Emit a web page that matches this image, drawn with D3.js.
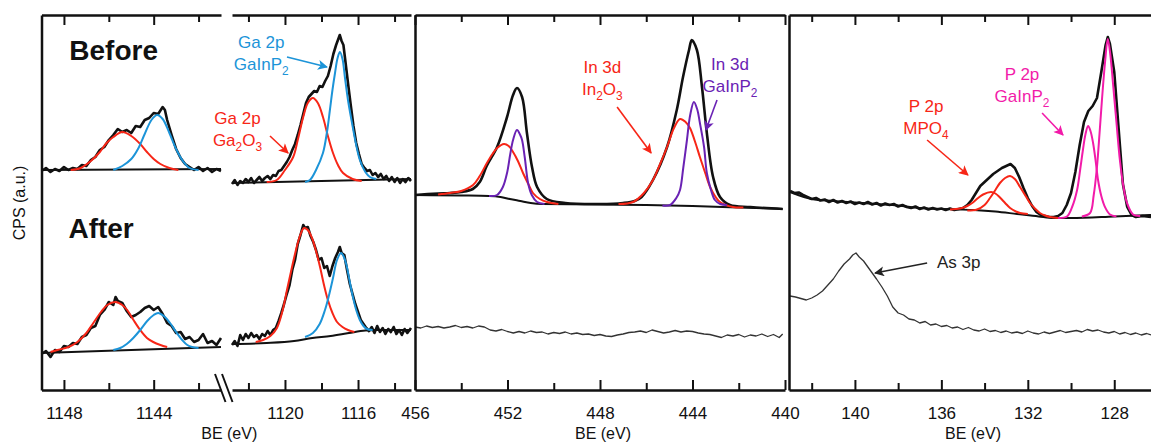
<!DOCTYPE html>
<html>
<head>
<meta charset="utf-8">
<script src="https://cdn.jsdelivr.net/npm/d3@7"></script>
<style>
  body { margin: 0; background: #fff; }
  svg { display: block; font-family: "Liberation Sans", "Noto Sans", sans-serif; }
</style>
</head>
<body>
<svg id="chart" width="1151" height="442"></svg>
<script>
// ---- Data: binding energy (eV), intensity (counts, a.u.) ----

// Ga 2p, 1149-1141 eV window
const gaLBeforeData = [[1149.0,219],[1148.8,222],[1148.6,218],[1148.4,221],[1148.2,219],[1148.0,223],[1147.8,220],[1147.6,222],[1147.4,221],[1147.2,225],[1147.0,224],[1146.8,230],[1146.6,233],[1146.4,240],[1146.2,243],[1146.0,250],[1145.8,255],[1145.6,261],[1145.4,258],[1145.2,260],[1145.0,257],[1144.8,264],[1144.6,263],[1144.4,270],[1144.2,272],[1144.0,277],[1143.8,276],[1143.6,283],[1143.5,280],[1143.4,270],[1143.2,255],[1143.0,241],[1142.8,232],[1142.6,226],[1142.4,223],[1142.2,220],[1142.0,223],[1141.8,219],[1141.6,222],[1141.4,218],[1141.2,221],[1141.0,219]];
const gaLBeforeBg = [[1149,220],[1141,221]];
const gaLBeforeOxide = [[1147.7,220],[1147.25,222],[1146.8,229],[1146.4,238],[1146.1,247],[1145.8,253],[1145.4,258],[1145.0,254],[1144.6,246],[1144.3,238],[1144.0,231],[1143.7,226],[1143.3,222],[1142.9,220]];
const gaLBeforeBulk = [[1145.8,220],[1145.4,224],[1145.0,231],[1144.7,241],[1144.4,256],[1144.1,270],[1143.85,275],[1143.6,271],[1143.3,257],[1143.0,241],[1142.7,229],[1142.4,222],[1142.0,220]];

const gaLAfterData = [[1149.0,36],[1148.8,39],[1148.6,33],[1148.4,40],[1148.2,38],[1148.0,44],[1147.8,43],[1147.6,47],[1147.4,46],[1147.2,53],[1147.0,55],[1146.8,62],[1146.6,64],[1146.4,75],[1146.2,80],[1146.0,88],[1145.8,85],[1145.7,93],[1145.6,89],[1145.4,87],[1145.2,79],[1145.0,73],[1144.8,75],[1144.6,78],[1144.4,82],[1144.2,84],[1144.0,80],[1143.8,83],[1143.6,76],[1143.4,67],[1143.2,64],[1143.0,57],[1142.8,58],[1142.6,51],[1142.4,53],[1142.2,48],[1142.0,50],[1141.8,56],[1141.6,47],[1141.4,49],[1141.2,45],[1141.0,52]];
const gaLAfterBg = [[1149,37],[1141,43]];
const gaLAfterOxide = [[1148.6,38],[1148.29,40],[1147.8,43],[1147.4,48],[1147.0,57],[1146.69,67],[1146.35,78],[1146.07,85],[1145.71,88],[1145.4,85],[1145.18,80],[1144.9,70],[1144.6,60],[1144.3,52],[1144.02,48],[1143.7,45],[1143.4,43]];
const gaLAfterBulk = [[1145.8,40],[1145.49,42],[1145.2,46],[1144.91,52],[1144.6,60],[1144.29,69],[1144.0,75],[1143.8,77],[1143.55,74],[1143.27,67],[1143.0,58],[1142.73,50],[1142.5,45],[1142.29,43],[1142.0,42]];

// Ga 2p, 1123-1113 eV window
const gaRBeforeData = [[1122.9,206],[1122.75,210],[1122.6,205],[1122.45,209],[1122.3,207],[1122.15,211],[1122.0,208],[1121.85,212],[1121.7,207],[1121.55,210],[1121.4,213],[1121.25,209],[1121.1,212],[1120.95,214],[1120.8,211],[1120.65,215],[1120.5,214],[1120.35,219],[1120.2,220],[1120.05,224],[1119.9,228],[1119.75,233],[1119.6,240],[1119.45,246],[1119.3,255],[1119.15,265],[1119.0,276],[1118.85,287],[1118.7,293],[1118.55,296],[1118.4,299],[1118.25,298],[1118.1,304],[1117.95,303],[1117.8,309],[1117.65,314],[1117.5,324],[1117.35,336],[1117.2,345],[1117.1,350],[1117.0,355],[1116.9,349],[1116.8,345],[1116.7,330],[1116.55,307],[1116.4,285],[1116.25,264],[1116.1,247],[1115.95,236],[1115.8,226],[1115.65,222],[1115.5,219],[1115.35,220],[1115.2,215],[1115.05,217],[1114.9,213],[1114.75,216],[1114.6,211],[1114.45,214],[1114.3,209],[1114.15,213],[1114.0,208],[1113.85,212],[1113.7,207],[1113.55,211],[1113.4,208],[1113.25,212],[1113.1,209]];
const gaRBeforeBg = [[1122.9,207],[1113.1,211]];
const gaRBeforeOxide = [[1121.0,208],[1120.45,210],[1120.0,220],[1119.55,233],[1119.3,250],[1119.0,273],[1118.75,287],[1118.47,292],[1118.2,287],[1117.92,273],[1117.65,254],[1117.37,237],[1117.1,225],[1116.82,217],[1116.3,211],[1115.8,209]];
const gaRBeforeBulk = [[1118.9,208],[1118.63,210],[1118.3,220],[1117.92,237],[1117.7,258],[1117.54,280],[1117.4,300],[1117.26,317],[1117.12,332],[1116.99,338],[1116.85,331],[1116.72,313],[1116.55,290],[1116.33,267],[1116.1,245],[1115.9,230],[1115.6,218],[1115.35,213],[1115.0,211]];

const gaRAfterData = [[1122.9,45],[1122.75,49],[1122.6,44],[1122.45,55],[1122.3,50],[1122.15,56],[1122.0,52],[1121.85,57],[1121.7,53],[1121.55,55],[1121.4,51],[1121.25,56],[1121.1,54],[1120.95,59],[1120.8,55],[1120.65,60],[1120.5,62],[1120.35,69],[1120.2,77],[1120.05,86],[1119.9,96],[1119.75,105],[1119.6,120],[1119.45,130],[1119.3,146],[1119.15,155],[1119.0,165],[1118.9,162],[1118.75,163],[1118.6,154],[1118.45,148],[1118.3,140],[1118.15,130],[1118.0,132],[1117.85,122],[1117.7,124],[1117.55,114],[1117.4,124],[1117.25,132],[1117.1,138],[1117.0,143],[1116.9,137],[1116.75,135],[1116.6,120],[1116.45,106],[1116.3,96],[1116.15,86],[1116.0,78],[1115.85,70],[1115.7,66],[1115.55,62],[1115.4,59],[1115.25,63],[1115.1,57],[1114.95,64],[1114.8,58],[1114.65,62],[1114.5,56],[1114.35,61],[1114.2,58],[1114.05,63],[1113.9,56],[1113.75,60],[1113.6,55],[1113.45,61],[1113.3,57],[1113.1,62]];
const gaRAfterBg = [[1122.9,46],[1121.0,47],[1119.5,49],[1118.5,52],[1117.5,54],[1116.5,57],[1115.6,59.5],[1115.0,60],[1113.1,60]];
const gaRAfterOxide = [[1121.6,48],[1121.2,50],[1120.8,54],[1120.44,62],[1120.15,78],[1119.89,100],[1119.65,120],[1119.45,136],[1119.2,153],[1118.96,162],[1118.75,160],[1118.52,152],[1118.3,139],[1118.08,123],[1117.85,104],[1117.65,90],[1117.4,77],[1117.15,68],[1116.85,63],[1116.55,60],[1116.2,58]];
const gaRAfterBulk = [[1118.9,53],[1118.47,57],[1118.1,66],[1117.81,80],[1117.6,94],[1117.37,112],[1117.15,130],[1116.93,137],[1116.75,132],[1116.61,123],[1116.45,108],[1116.28,93],[1116.1,80],[1115.9,70],[1115.7,64],[1115.51,61],[1115.2,60]];

// In 3d
const inBeforeEnvelope = [[456,195],[455,196.5],[454.5,197],[454,198],[453.5,201],[453.2,208],[452.9,224],[452.45,243],[452.02,273],[451.76,295],[451.59,302],[451.37,293],[451.16,257],[450.94,223],[450.72,203],[450.3,191],[449.5,187],[448,186],[447,187],[446.5,189],[446.2,193],[445.71,210],[445.1,243],[444.68,280],[444.41,313],[444.15,340],[444.03,350],[443.81,340],[443.59,303],[443.38,257],[443.11,213],[442.81,193],[442.38,185],[441.5,183],[440.1,181]];
const inBeforeBg = [[456,195],[454,194.5],[452.8,194],[452.3,193],[451.9,191],[451.45,189],[451.0,187],[450.5,186],[448,185.5],[446,185],[444,184],[442,182.5],[440.1,181]];
const inOxide32 = [[455,195.5],[454.49,197],[454.0,199],[453.49,205],[453.2,214],[452.89,227],[452.65,236],[452.45,242],[452.15,246],[451.95,244],[451.76,238],[451.55,229],[451.33,217],[451.1,206],[450.9,197],[450.6,191],[450.29,188],[449.8,186]];
const inBulk32 = [[452.8,194],[452.45,195],[452.2,203],[452.02,217],[451.88,236],[451.76,250],[451.59,260],[451.45,255],[451.37,250],[451.25,232],[451.11,207],[450.95,195],[450.72,188],[450.4,186]];
const inOxide52 = [[447.2,186],[446.57,188],[446.1,197],[445.71,210],[445.4,226],[445.1,243],[444.8,262],[444.54,271],[444.3,268],[444.11,262],[443.9,249],[443.68,233],[443.45,217],[443.24,203],[443.0,193],[442.81,188],[442.25,183],[441.8,182.5]];
const inBulk52 = [[445.3,184.5],[444.97,185],[444.7,192],[444.54,200],[444.4,222],[444.24,250],[444.1,275],[443.94,288],[443.8,281],[443.68,267],[443.5,243],[443.38,217],[443.2,200],[443.03,190],[442.8,186],[442.51,185]];
const inAfterData = [[456.0,63],[455.75,62],[455.5,64],[455.25,62.5],[455.0,63.5],[454.75,62],[454.5,63],[454.25,64.5],[454.0,62.5],[453.75,63.5],[453.5,62],[453.25,64],[453.0,63],[452.75,60],[452.5,59],[452.25,60.5],[452.0,58.5],[451.75,57],[451.5,58.5],[451.25,57],[451.0,59],[450.75,57.5],[450.5,58],[450.25,56],[450.0,57.5],[449.75,56.5],[449.5,58],[449.25,56],[449.0,57],[448.75,55.5],[448.5,56],[448.25,54.5],[448.0,55.5],[447.75,54],[447.5,53.5],[447.25,55],[447.0,56],[446.75,57.5],[446.5,58],[446.25,59],[446.0,57.5],[445.75,60],[445.5,58.5],[445.25,57],[445.0,58],[444.75,59.5],[444.5,58],[444.25,59],[444.0,58.5],[443.75,57],[443.5,56],[443.25,55.5],[443.0,54],[442.75,52.5],[442.5,55],[442.25,54],[442.0,55.5],[441.75,53],[441.5,55],[441.25,54],[441.0,56],[440.75,53.5],[440.5,55.5],[440.25,52.5],[440.1,56]];

// P 2p / As 3p
const pBeforeData = [[143.0,199],[142.8,197],[142.6,197.5],[142.4,195],[142.2,193],[142.0,191],[141.8,192],[141.6,189.5],[141.4,190.5],[141.2,188],[141.0,190],[140.8,187.5],[140.6,189],[140.4,187],[140.2,188.5],[140.0,186],[139.8,187.5],[139.6,186],[139.4,188],[139.2,185.5],[139.0,187],[138.8,184.5],[138.6,186.5],[138.4,185],[138.2,186],[138.0,183.5],[137.8,185],[137.6,183],[137.4,182],[137.2,183.5],[137.0,181],[136.8,182.5],[136.6,180.5],[136.4,182],[136.2,180.5],[136.0,181.5],[135.8,180],[135.6,181.5],[135.4,180],[135.2,181],[135.0,182],[134.8,185],[134.6,190],[134.4,197],[134.2,204],[134.0,208],[133.8,212],[133.6,216],[133.4,219],[133.2,222],[133.0,224],[132.8,226],[132.6,222],[132.4,213],[132.2,202],[132.0,192],[131.8,184],[131.6,178],[131.4,175],[131.2,174],[131.0,173],[130.8,173],[130.6,174],[130.4,177],[130.2,185],[130.0,197],[129.8,218],[129.6,245],[129.4,268],[129.2,279],[129.0,284],[128.8,292],[128.6,318],[128.4,345],[128.3,353],[128.2,346],[128.0,318],[127.8,262],[127.6,206],[127.4,183],[127.2,175],[127.0,173],[126.7,174],[126.3,173]];
const pBeforeBg = [[143.0,198],[142.0,191],[141.0,189],[140,187.5],[139,186],[138,184.5],[137,182],[136,181],[135.2,180.5],[134.5,180],[133.5,178.5],[132.5,176],[131.5,173.5],[130.8,172],[130,172],[128,173.5],[126.3,175]];
const pOxideA = [[135.6,180.5],[135.14,181.5],[134.8,184],[134.54,187.5],[134.3,192],[134.07,195.5],[133.7,198],[133.5,196.5],[133.29,192.5],[133.05,187],[132.82,182],[132.55,178.5],[132.36,177],[132.0,176]];
const pOxideB = [[134.8,179.5],[134.35,180.5],[134.0,185],[133.75,192],[133.5,200],[133.29,207],[133.05,212],[132.82,214],[132.6,211],[132.36,203],[132.1,194],[131.9,187],[131.65,181],[131.44,177],[131.2,174.5],[130.97,173],[130.6,172]];
const pBulkA = [[130.6,172],[130.19,173.5],[129.95,183],[129.72,200],[129.58,220],[129.45,240],[129.33,256],[129.21,264],[129.1,259],[128.98,247],[128.86,229],[128.75,210],[128.6,194],[128.43,183],[128.2,175.5],[127.9,173.5]];
const pBulkB = [[129.5,173.5],[129.12,177],[128.95,195],[128.8,223],[128.68,257],[128.57,290],[128.43,327],[128.3,351],[128.18,335],[128.06,307],[127.9,268],[127.74,230],[127.58,204],[127.41,187],[127.13,175.5],[126.8,174]];
const pAfterData = [[143.0,94],[142.75,93],[142.5,91.5],[142.25,90],[142.0,92],[141.75,95],[141.5,99],[141.25,105],[141.0,111],[140.75,119],[140.5,126],[140.25,131],[140.1,135],[139.95,137],[139.8,133],[139.6,129],[139.4,123],[139.2,117],[139.0,111],[138.75,103],[138.5,94],[138.25,83],[138.0,77],[137.75,75],[137.5,71],[137.25,70],[137.0,67],[136.75,68.5],[136.5,65],[136.25,66],[136.0,63.5],[135.75,64.5],[135.5,62],[135.25,63],[135.0,60.5],[134.75,62.5],[134.5,60],[134.25,59],[134.0,61],[133.75,58.5],[133.5,59.5],[133.25,57.5],[133.0,59],[132.75,57],[132.5,58],[132.25,56.5],[132.0,59],[131.75,57],[131.5,56],[131.25,58],[131.0,56.5],[130.75,58],[130.5,59.5],[130.25,57.5],[130.0,58.5],[129.75,59.5],[129.5,58],[129.25,60.5],[129.0,59],[128.75,60],[128.5,58],[128.25,57],[128.0,58.5],[127.75,56],[127.5,57.5],[127.25,55.5],[127.0,57],[126.75,55],[126.5,56.5],[126.3,55]];

// tick values
const gaLMajor = [1148, 1144], gaLMinor = [1146, 1142];
const gaRMajor = [1120, 1116], gaRMinor = [1122, 1118, 1114];
const inMajor = [456, 452, 448, 444, 440], inMinor = [454, 450, 446, 442];
const pMajor = [140, 136, 132, 128], pMinor = [142, 138, 134, 130];

// ---- Styles ----
const RED = "#f72617", BLUE = "#1c94d8", PURPLE = "#6a22b4", PINK = "#f21ba9", INK = "#111";
const TOP = 15, BOTTOM = 390;

const svg = d3.select("#chart");
const y = d3.scaleLinear().domain([0, 375]).range([BOTTOM, TOP]);

const smooth = d3.curveCatmullRom.alpha(0.5);
const panels = [
  { domain: [1149, 1141], range: [41.5, 221], major: gaLMajor, minor: gaLMinor, border: true,
    series: [
      { d: gaLBeforeBg, c: INK, w: 2, k: d3.curveLinear },
      { d: gaLBeforeData, c: INK, w: 2.6, k: d3.curveLinear },
      { d: gaLBeforeOxide, c: RED, w: 2, k: smooth },
      { d: gaLBeforeBulk, c: BLUE, w: 2, k: smooth },
      { d: gaLAfterBg, c: INK, w: 2, k: d3.curveLinear },
      { d: gaLAfterData, c: INK, w: 2.6, k: d3.curveLinear },
      { d: gaLAfterOxide, c: RED, w: 2, k: smooth },
      { d: gaLAfterBulk, c: BLUE, w: 2, k: smooth }
    ] },
  { domain: [1122.9, 1113.1], range: [232, 411], major: gaRMajor, minor: gaRMinor, border: false,
    series: [
      { d: gaRBeforeBg, c: INK, w: 2, k: d3.curveLinear },
      { d: gaRBeforeData, c: INK, w: 2.6, k: d3.curveLinear },
      { d: gaRBeforeOxide, c: RED, w: 2, k: smooth },
      { d: gaRBeforeBulk, c: BLUE, w: 2, k: smooth },
      { d: gaRAfterBg, c: INK, w: 2, k: d3.curveMonotoneX },
      { d: gaRAfterData, c: INK, w: 2.6, k: d3.curveLinear },
      { d: gaRAfterOxide, c: RED, w: 2, k: smooth },
      { d: gaRAfterBulk, c: BLUE, w: 2, k: smooth }
    ] },
  { domain: [456, 440], range: [415, 785], major: inMajor, minor: inMinor, border: true,
    series: [
      { d: inBeforeBg, c: INK, w: 2, k: d3.curveMonotoneX },
      { d: inBeforeEnvelope, c: INK, w: 2.6, k: smooth },
      { d: inOxide32, c: RED, w: 2, k: smooth },
      { d: inBulk32, c: PURPLE, w: 2, k: smooth },
      { d: inOxide52, c: RED, w: 2, k: smooth },
      { d: inBulk52, c: PURPLE, w: 2, k: smooth },
      { d: inAfterData, c: "#333", w: 1.3, k: d3.curveLinear }
    ] },
  { domain: [143.05, 126.3], range: [789, 1151], major: pMajor, minor: pMinor, border: true,
    series: [
      { d: pBeforeBg, c: INK, w: 2, k: d3.curveMonotoneX },
      { d: pBeforeData, c: INK, w: 2.6, k: d3.curveLinear },
      { d: pOxideA, c: RED, w: 2, k: smooth },
      { d: pOxideB, c: RED, w: 2, k: smooth },
      { d: pBulkA, c: PINK, w: 2, k: smooth },
      { d: pBulkB, c: PINK, w: 2, k: smooth },
      { d: pAfterData, c: "#333", w: 1.3, k: d3.curveLinear }
    ] }
];

// annotations (anchored in data coordinates of their panel)
const notes = [
  { p: 0, be: 1147.76, v: 330, lines: ["Before"], c: INK, size: 28, bold: true, anchor: "start" },
  { p: 0, be: 1147.8, v: 152, lines: ["After"], c: INK, size: 28, bold: true, anchor: "start" },
  { p: 1, be: 1121.3, v: 342, lines: ["Ga 2p", "GaInP_2"], c: BLUE },
  { p: 1, be: 1122.6, v: 266, lines: ["Ga 2p", "Ga_2O_3"], c: RED },
  { p: 2, be: 447.9, v: 317, lines: ["In 3d", "In_2O_3"], c: RED },
  { p: 2, be: 442.38, v: 320, lines: ["In 3d", "GaInP_2"], c: PURPLE },
  { p: 3, be: 136.71, v: 278, lines: ["P 2p", "MPO_4"], c: RED },
  { p: 3, be: 132.27, v: 310, lines: ["P 2p", "GaInP_2"], c: PINK },
  { p: 3, be: 136.2, v: 122, lines: ["As 3p"], c: "#222", anchor: "start" }
];
const arrows = [
  { p: 1, from: [1119.89, 333], to: [1117.7, 323], c: BLUE },
  { p: 1, from: [1120.82, 254], to: [1119.83, 237], c: RED },
  { p: 2, from: [447.26, 283], to: [445.79, 237], c: RED },
  { p: 2, from: [442.94, 290], to: [443.42, 260], c: PURPLE },
  { p: 3, from: [136.66, 250], to: [134.77, 215], c: RED },
  { p: 3, from: [131.34, 277], to: [130.37, 255], c: PINK },
  { p: 3, from: [136.66, 127], to: [139.07, 117], c: "#222" }
];

// arrow head markers, one per colour
const defs = svg.append("defs");
const arrowColors = Array.from(new Set(arrows.map(a => a.c)));
arrowColors.forEach((c, i) => {
  defs.append("marker")
    .attr("id", "head" + i)
    .attr("viewBox", "0 0 10 10")
    .attr("refX", 9).attr("refY", 5)
    .attr("markerUnits", "userSpaceOnUse")
    .attr("markerWidth", 12).attr("markerHeight", 10)
    .attr("orient", "auto")
    .append("path").attr("d", "M0,0L10,5L0,10L2.5,5Z").attr("fill", c);
});

function styleAxis(g, w) {
  g.attr("font-family", null).attr("font-size", null);
  g.selectAll("path.domain").attr("stroke", INK).attr("stroke-width", w);
  g.selectAll(".tick line").attr("stroke", INK).attr("stroke-width", 2);
}

panels.forEach(p => {
  p.x = d3.scaleLinear().domain(p.domain).range(p.range);
  const x = p.x;

  // curves
  p.series.forEach(s => {
    const line = d3.line().x(d => x(d[0])).y(d => y(d[1])).curve(s.k);
    svg.append("path")
      .datum(s.d)
      .attr("d", line)
      .attr("fill", "none")
      .attr("stroke", s.c)
      .attr("stroke-width", s.w)
      .attr("stroke-linejoin", "round");
  });

  // bottom axis with labels
  svg.append("g")
    .attr("transform", `translate(0,${BOTTOM})`)
    .call(d3.axisBottom(x).tickValues(p.major).tickSize(-10).tickSizeOuter(0).tickPadding(17).tickFormat(d3.format("d")))
    .call(g => styleAxis(g, 2.5))
    .call(g => g.selectAll(".tick text").attr("fill", INK).style("font-size", "17px"));
  svg.append("g")
    .attr("transform", `translate(0,${BOTTOM})`)
    .call(d3.axisBottom(x).tickValues(p.minor).tickSize(-7).tickFormat(""))
    .call(g => styleAxis(g, 2.5))
    .call(g => g.select(".domain").remove());

  // top axis
  svg.append("g")
    .attr("transform", `translate(0,${TOP})`)
    .call(d3.axisTop(x).tickValues(p.major).tickSize(-10).tickSizeOuter(0).tickFormat(""))
    .call(g => styleAxis(g, 2.5));
  svg.append("g")
    .attr("transform", `translate(0,${TOP})`)
    .call(d3.axisTop(x).tickValues(p.minor).tickSize(-7).tickFormat(""))
    .call(g => styleAxis(g, 2.5))
    .call(g => g.select(".domain").remove());

  // left frame
  if (p.border) {
    svg.append("g")
      .attr("transform", `translate(${p.range[0]},0)`)
      .call(d3.axisLeft(y).tickValues([]).tickSizeOuter(0))
      .call(g => styleAxis(g, 2.5));
  }
});

// axis break marks between the two Ga windows
const gapMid = (panels[0].range[1] + panels[1].range[0]) / 2;
[-7, 0].forEach(off => {
  svg.append("line")
    .attr("x1", gapMid + off - 4.5).attr("y1", BOTTOM - 16)
    .attr("x2", gapMid + off + 6).attr("y2", BOTTOM + 12)
    .attr("stroke", INK).attr("stroke-width", 2);
});

// x axis titles
[[panels[0].range[0], panels[1].range[1]], panels[2].range, panels[3].range].forEach(r => {
  svg.append("text")
    .attr("x", (r[0] + r[1]) / 2 + 3).attr("y", 439)
    .attr("text-anchor", "middle")
    .style("font-size", "16px").attr("fill", INK)
    .text("BE (eV)");
});

// y axis title
svg.append("text")
  .attr("transform", "translate(25,203) rotate(-90)")
  .attr("text-anchor", "middle")
  .style("font-size", "16px").attr("fill", INK)
  .text("CPS (a.u.)");

// annotation text, "_" marks a one-character subscript
function addRich(t, str, size) {
  const parts = str.split(/(_.)/).filter(s => s.length);
  let shifted = false;
  parts.forEach(s => {
    if (s[0] === "_") {
      t.append("tspan").attr("dy", size * 0.28).style("font-size", (size * 0.7) + "px").text(s[1]);
      shifted = true;
    } else {
      const sp = t.append("tspan").text(s);
      if (shifted) { sp.attr("dy", -size * 0.28); shifted = false; }
    }
  });
}

notes.forEach(n => {
  const x = panels[n.p].x;
  const size = n.size || 17;
  n.lines.forEach((line, i) => {
    const t = svg.append("text")
      .attr("x", x(n.be))
      .attr("y", y(n.v) + i * 22)
      .attr("text-anchor", n.anchor || "middle")
      .attr("fill", n.c)
      .style("font-size", size + "px")
      .style("font-weight", n.bold ? "bold" : "normal");
    addRich(t, line, size);
  });
});

arrows.forEach(a => {
  const x = panels[a.p].x;
  svg.append("line")
    .attr("x1", x(a.from[0])).attr("y1", y(a.from[1]))
    .attr("x2", x(a.to[0])).attr("y2", y(a.to[1]))
    .attr("stroke", a.c).attr("stroke-width", 1.6)
    .attr("marker-end", `url(#head${arrowColors.indexOf(a.c)})`);
});
</script>
</body>
</html>
